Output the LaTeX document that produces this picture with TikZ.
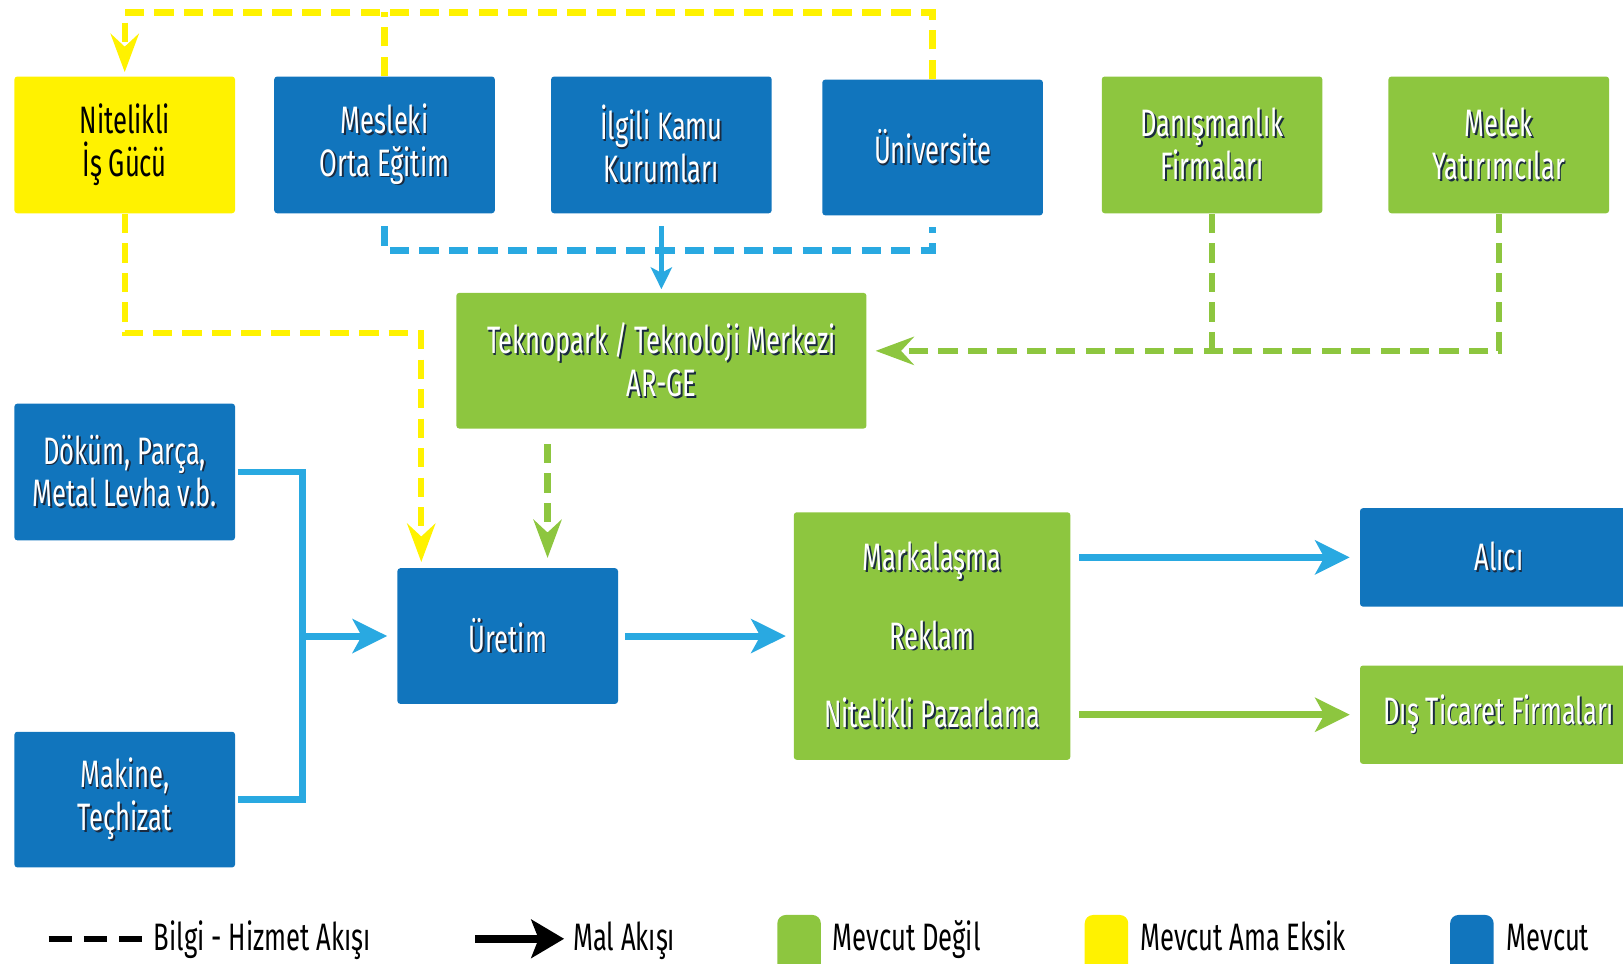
\documentclass[tikz,border=0pt]{standalone}
\usepackage{fontspec}
\setmainfont{Fira Sans}[FakeStretch=0.67]
\usepackage{tikz}
\usetikzlibrary{arrows.meta}
\definecolor{kblue}{HTML}{1175BD}
\definecolor{kgreen}{HTML}{8DC63F}
\definecolor{kyellow}{HTML}{FFF200}
\definecolor{kcyan}{HTML}{29A9E1}
\definecolor{kshadow}{HTML}{1A2A40}
\newcommand{\sh}[1]{\leavevmode\rlap{\kern0.45pt\raisebox{-0.45pt}{\textcolor{kshadow}{#1}}}#1}
\tikzset{
  box/.style={rectangle,rounded corners=0.8pt,minimum width=2.13cm,minimum height=1.32cm,
    inner sep=0pt,align=center,text=white,font=\fontsize{10.5}{11.7}\selectfont},
  bluebox/.style={box,fill=kblue},
  greenbox/.style={box,fill=kgreen},
  yellowbox/.style={box,fill=kyellow,text=black},
  infoflow/.style={line width=1.75pt,dash pattern=on 5.3pt off 2.8pt},
  goodsflow/.style={line width=1.9pt,kcyan},
  bigtip/.style={-{Stealth[length=9.5pt,width=9.3pt,inset=2.5pt]}},
  thintip/.style={-{Stealth[length=10.5pt,width=7.7pt,inset=3.5pt]}},
  smalltip/.style={-{Stealth[length=6pt,width=5.8pt,inset=1.5pt]}},
  legkey/.style={rectangle,rounded corners=2.3pt,minimum width=0.42cm,minimum height=0.76cm,inner sep=0pt},
  legtext/.style={inner sep=0pt,text=black,font=\fontsize{10.5}{12}\selectfont}
}
\begin{document}
\begin{tikzpicture}[line cap=butt,line join=miter,x=0.01cm,y=-0.01cm]
\useasboundingbox (0,0) rectangle (1568,931);
% boxes
\node[yellowbox] (nit) at (120.5,140) {Nitelikli\\İş Gücü};
\node[bluebox] (mes) at (371.5,140) {\sh{Mesleki}\\\sh{Orta Eğitim}};
\node[bluebox] (kamu) at (639,140) {\sh{İlgili Kamu}\\\sh{Kurumları}};
\node[bluebox,minimum height=1.31cm] (uni) at (901,142.5) {\sh{Üniversite}};
\node[greenbox] (dan) at (1171,140) {\sh{Danışmanlık}\\\sh{Firmaları}};
\node[greenbox] (mel) at (1448,140) {\sh{Melek}\\\sh{Yatırımcılar}};
\node[greenbox,minimum width=3.96cm,minimum height=1.31cm] (tek) at (639,348.5) {\sh{Teknopark / Teknoloji Merkezi}\\\sh{AR-GE}};
\node[bluebox] (dok) at (120.5,456) {\sh{Döküm, Parça,}\\\sh{Metal Levha v.b.}};
\node[bluebox,minimum height=1.31cm] (mak) at (120.5,772.5) {\sh{Makine,}\\\sh{Teçhizat}};
\node[bluebox,minimum height=1.31cm] (ure) at (490.5,614.5) {\sh{Üretim}};
\node[greenbox,minimum width=2.67cm,minimum height=2.39cm,font=\fontsize{10.5}{21.6}\selectfont] (mar) at (900.5,614.5)
  {\sh{Markalaşma}\\\sh{Reklam}\\\sh{Nitelikli Pazarlama}};
\node[bluebox,minimum width=2.68cm,minimum height=0.95cm] (ali) at (1448,538.5) {\sh{Alıcı}};
\node[greenbox,minimum width=2.68cm,minimum height=0.95cm] (dis) at (1448,690.5) {\sh{Dış Ticaret Firmaları}};
% bilgi - hizmet
\coordinate (ytop) at (0,12);
\coordinate (ybend) at (407,322);
\coordinate (bbend) at (0,242);
\coordinate (gbend) at (0,339);
\coordinate (gdrop) at (529,0);
\draw[infoflow,kyellow] (mes.north)--(mes.north|-ytop);
\draw[infoflow,kyellow,thintip,shorten >=1pt] (uni.north)|-(ytop-|nit.north)--(nit.north);
\draw[infoflow,kyellow,thintip,shorten >=1.5pt] (nit.south)|-(ybend)--(ybend|-ure.north);
\draw[infoflow,kcyan,shorten <=3.4pt,shorten >=3pt] (mes.south)|-(bbend-|uni.south)--(uni.south);
\draw[line width=1.3pt,kcyan,smalltip,shorten <=3.4pt,shorten >=0.8pt] (kamu.south)--(tek.north);
\draw[infoflow,kgreen] (dan.south)--(dan.south|-gbend);
\draw[infoflow,kgreen,thintip,shorten >=2.3pt] (mel.south)|-(gbend-|tek.east);
\draw[infoflow,kgreen,thintip,shorten <=4pt,shorten >=2.6pt] (tek.south-|gdrop)--(ure.north-|gdrop);
% mal akisi
\coordinate (gjoin) at (292,0);
\draw[goodsflow,shorten <=0.5pt,shorten >=0.5pt] (dok.east)-|(gjoin|-mak.east)--(mak.east);
\draw[goodsflow,bigtip,shorten >=2.6pt] (gjoin|-ure.west)--(ure.west);
\draw[goodsflow,bigtip,shorten <=1.7pt,shorten >=2pt] (ure.east)--(mar.west);
\draw[goodsflow,bigtip,shorten <=2.3pt,shorten >=2.6pt] (mar.east|-ali)--(ali.west);
\draw[goodsflow,kgreen,bigtip,shorten <=2.3pt,shorten >=2.6pt] (mar.east|-dis)--(dis.west);
% legend
\coordinate (l1a) at (47,907);
\coordinate (l1b) at (137,907);
\coordinate (l2a) at (459,907);
\coordinate (l2b) at (545,907);
\draw[line width=1.7pt,dash pattern=on 6.3pt off 3.4pt] (l1a)--(l1b);
\node[legtext,anchor=base west] (l1t) at (148,918) {Bilgi - Hizmet Akışı};
\draw[line width=2.3pt,-{Stealth[length=9pt,width=10.5pt,inset=2pt]}] (l2a)--(l2b);
\node[legtext,anchor=base west] (l2t) at (553,918) {Mal Akışı};
\node[legkey,fill=kgreen] (k1) at (772,922) {};
\node[legtext,anchor=base west] (k1t) at (804,918) {Mevcut Değil};
\node[legkey,fill=kyellow] (k2) at (1069,922) {};
\node[legtext,anchor=base west] (k2t) at (1101,918) {Mevcut Ama Eksik};
\node[legkey,fill=kblue] (k3) at (1422,922) {};
\node[legtext,anchor=base west] (k3t) at (1455,918) {Mevcut};
\end{tikzpicture}
\end{document}
